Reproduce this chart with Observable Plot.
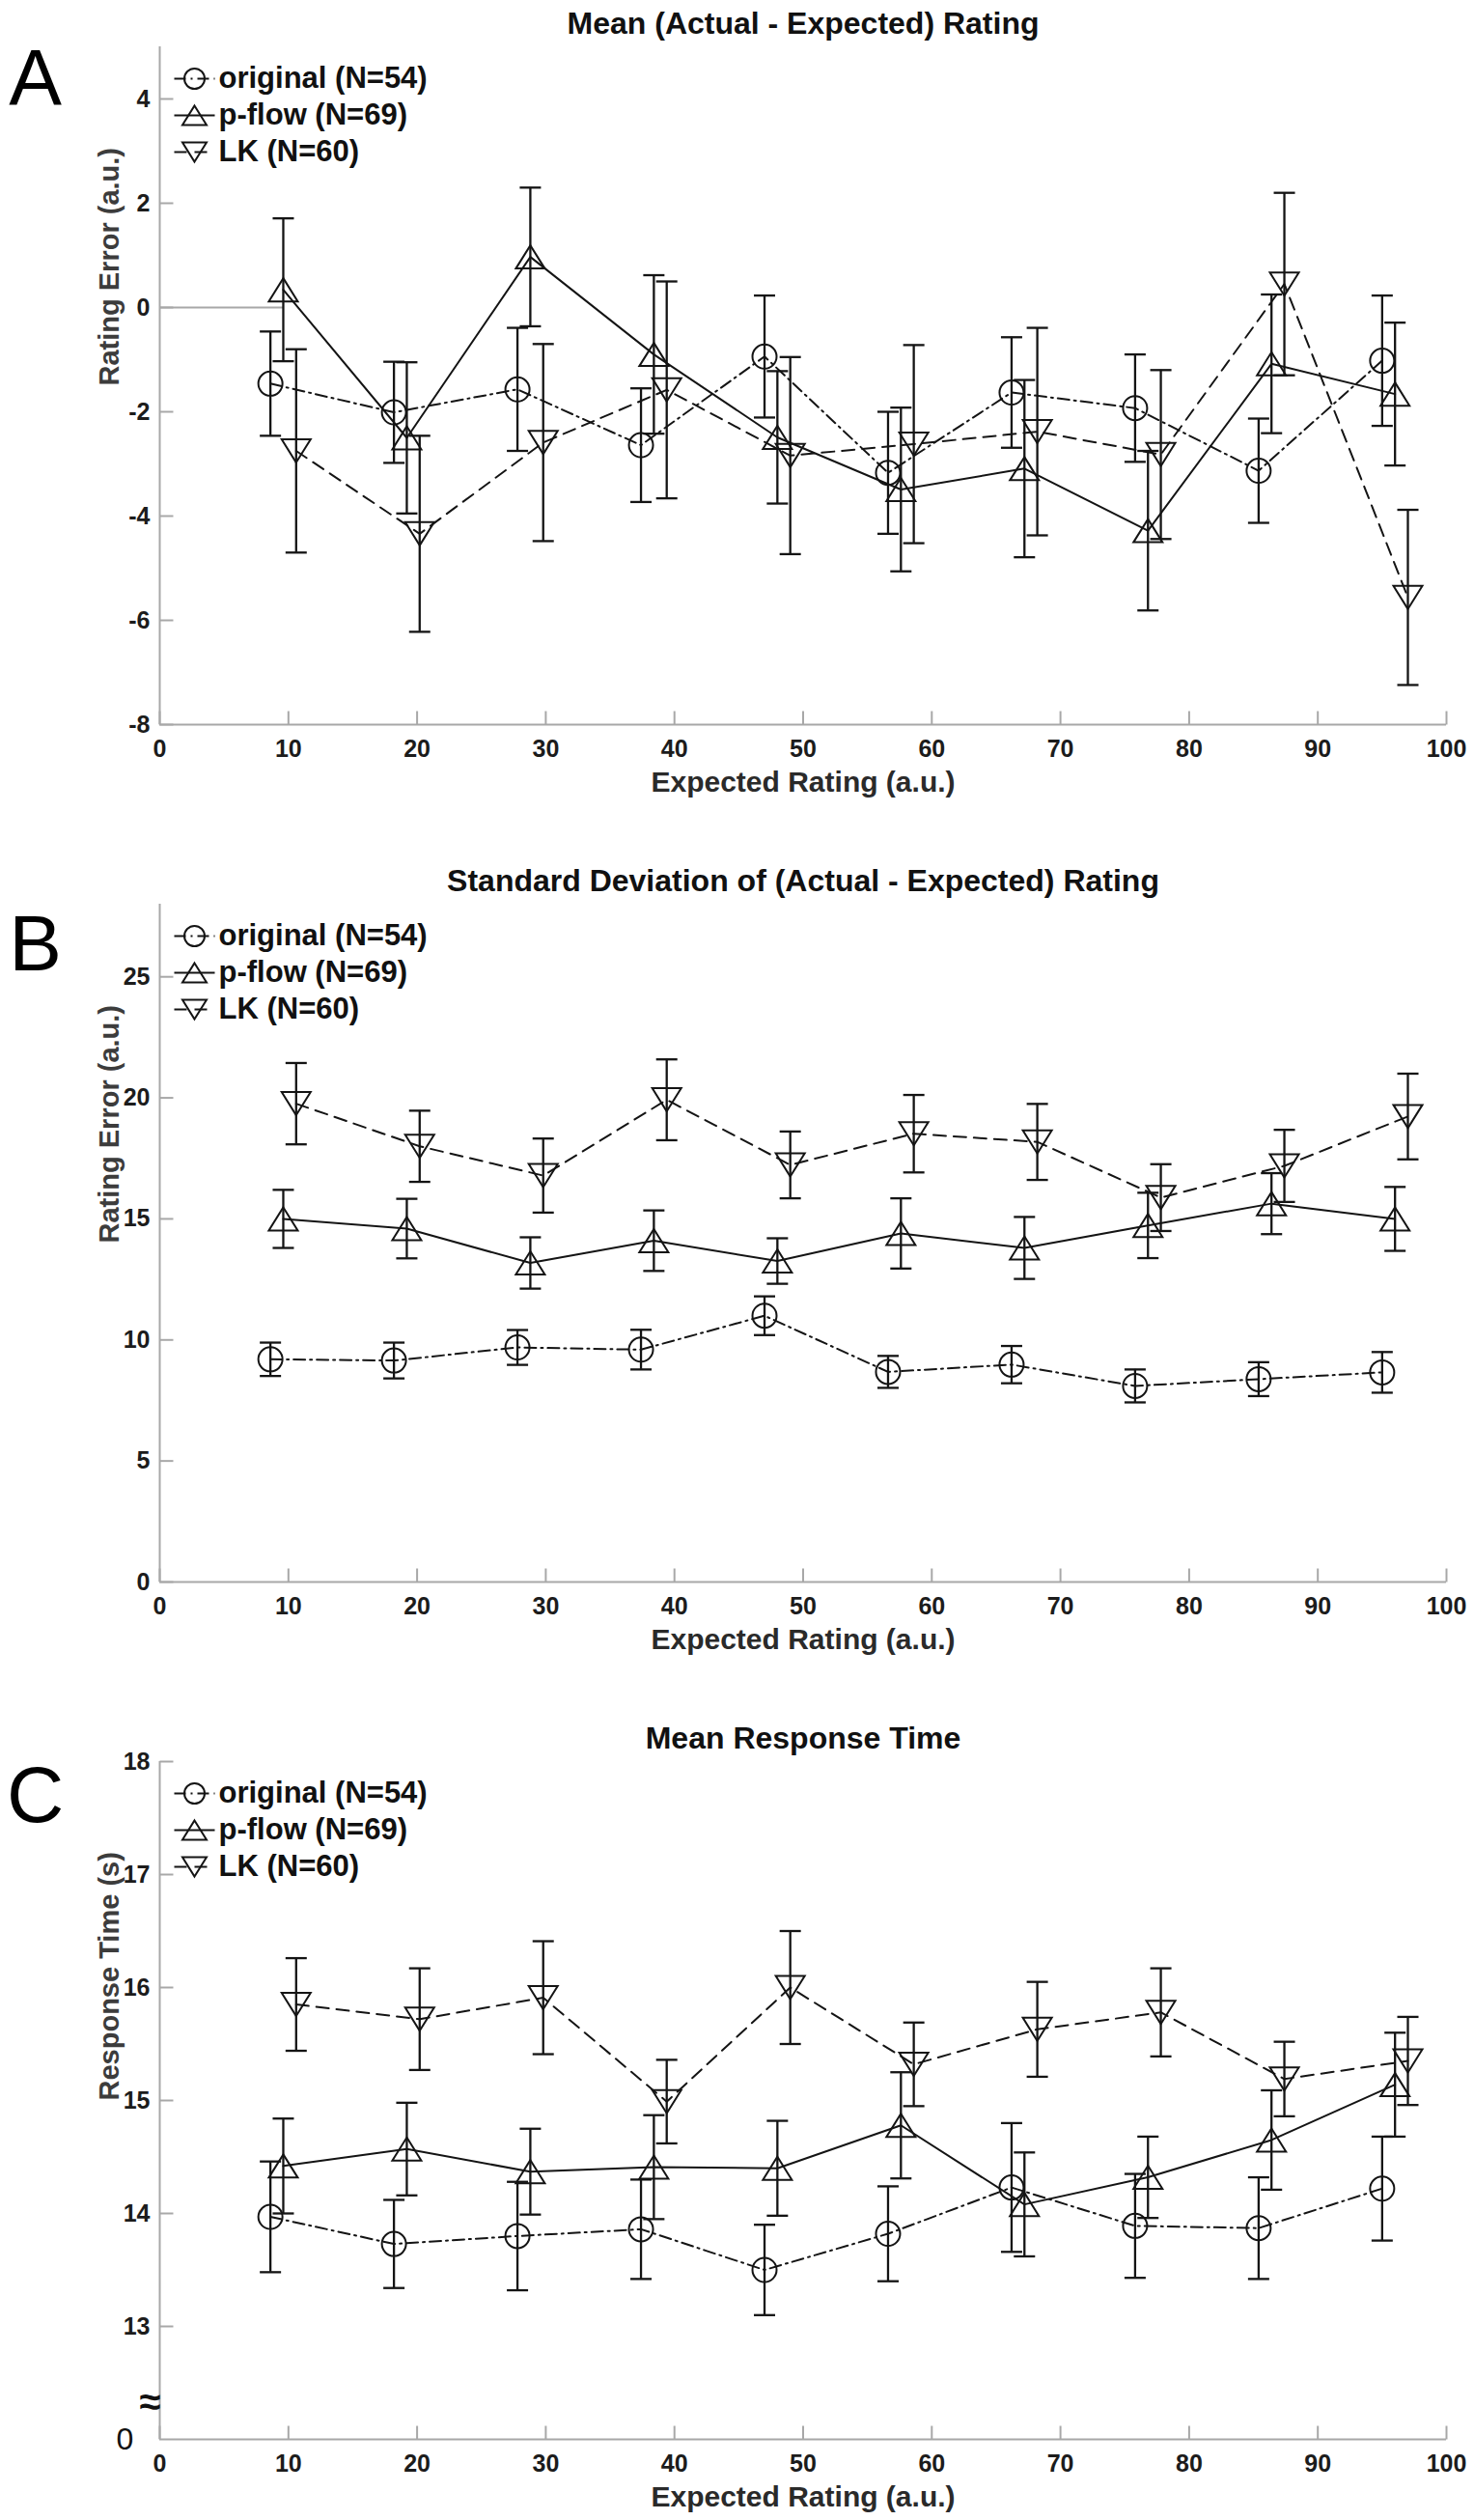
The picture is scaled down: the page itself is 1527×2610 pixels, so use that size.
<!DOCTYPE html>
<html>
<head>
<meta charset="utf-8">
<script src="https://cdn.jsdelivr.net/npm/d3@7"></script>
<script src="https://cdn.jsdelivr.net/npm/@observablehq/plot@0.6"></script>
<style>
  body { margin: 0; background: #fff; }
  #fig { width: 1527px; }
  #fig svg { display: block; }
</style>
</head>
<body>
<div id="fig"></div>
<script>
// ---------------- DATA ----------------
const seriesNames = ["original (N=54)", "p-flow (N=69)", "LK (N=60)"];
const xLabel = "Expected Rating (a.u.)";
const xTicks = [0, 10, 20, 30, 40, 50, 60, 70, 80, 90, 100];

// x positions (mean expected rating per bin) for each series
const xOriginal = [8.6, 18.2, 27.8, 37.4, 47.0, 56.6, 66.2, 75.8, 85.4, 95.0];
const xPflow    = [9.6, 19.2, 28.8, 38.4, 48.0, 57.6, 67.2, 76.8, 86.4, 96.0];
const xLK       = [10.6, 20.2, 29.8, 39.4, 49.0, 58.6, 68.2, 77.8, 87.4, 97.0];

// Panel A: Mean (Actual - Expected) Rating
const titleA = "Mean (Actual - Expected) Rating";
const yLabelA = "Rating Error (a.u.)";
const yTicksA = [-8, -6, -4, -2, 0, 2, 4];
const yDomainA = [-8, 5];
const meanA_original = [-1.46, -2.01, -1.57, -2.64, -0.94, -3.17, -1.63, -1.93, -3.13, -1.02];
const seA_original   = [1.00, 0.97, 1.18, 1.09, 1.17, 1.17, 1.06, 1.03, 1.00, 1.25];
const meanA_pflow    = [0.34, -2.50, 0.97, -0.90, -2.49, -3.49, -3.09, -4.28, -1.08, -1.66];
const seA_pflow      = [1.37, 1.45, 1.33, 1.52, 1.27, 1.57, 1.70, 1.53, 1.33, 1.37];
const meanA_LK       = [-2.75, -4.34, -2.59, -1.58, -2.84, -2.62, -2.38, -2.82, 0.45, -5.56];
const seA_LK         = [1.95, 1.88, 1.89, 2.08, 1.89, 1.90, 1.99, 1.62, 1.75, 1.68];
const refLineA = [{y: 0, x1: 0, x2: 9.6}];

// Panel B: Standard Deviation of (Actual - Expected) Rating
const titleB = "Standard Deviation of (Actual - Expected) Rating";
const yLabelB = "Rating Error (a.u.)";
const yTicksB = [0, 5, 10, 15, 20, 25];
const yDomainB = [0, 28];
const meanB_original = [9.20, 9.15, 9.69, 9.60, 11.00, 8.68, 8.98, 8.10, 8.38, 8.66];
const seB_original   = [0.69, 0.74, 0.72, 0.82, 0.80, 0.66, 0.77, 0.68, 0.70, 0.84];
const meanB_pflow    = [15.00, 14.60, 13.18, 14.10, 13.26, 14.40, 13.80, 14.73, 15.63, 15.00];
const seB_pflow      = [1.20, 1.23, 1.06, 1.25, 0.94, 1.45, 1.28, 1.35, 1.26, 1.32];
const meanB_LK       = [19.76, 18.00, 16.79, 19.92, 17.23, 18.52, 18.18, 15.88, 17.19, 19.23];
const seB_LK         = [1.68, 1.47, 1.53, 1.67, 1.38, 1.60, 1.57, 1.38, 1.49, 1.77];

// Panel C: Mean Response Time
const titleC = "Mean Response Time";
const yLabelC = "Response Time (s)";
const yTicksC = [13, 14, 15, 16, 17, 18];
const yDomainC = [12, 18];
const axisBreakLabelC = [{value: 12, label: "0"}];
const axisBreakMarkC = [{value: 12.33, label: "≈"}];
const meanC_original = [13.97, 13.73, 13.80, 13.86, 13.50, 13.82, 14.23, 13.89, 13.87, 14.22];
const seC_original   = [0.49, 0.39, 0.48, 0.44, 0.40, 0.42, 0.57, 0.46, 0.45, 0.46];
const meanC_pflow    = [14.42, 14.57, 14.37, 14.41, 14.40, 14.78, 14.08, 14.32, 14.65, 15.14];
const seC_pflow      = [0.42, 0.41, 0.38, 0.46, 0.42, 0.47, 0.46, 0.36, 0.44, 0.46];
const meanC_LK       = [15.85, 15.72, 15.91, 14.99, 16.00, 15.32, 15.63, 15.78, 15.19, 15.35];
const seC_LK         = [0.41, 0.45, 0.50, 0.37, 0.50, 0.37, 0.42, 0.39, 0.33, 0.39];

// ---------------- STYLE ----------------
const FONT = "'Liberation Sans', Arial, Helvetica, sans-serif";
const INK = "#141414";
const AXIS = "#a8a8a8";

const circleSym = {draw(ctx, size) { const r = Math.sqrt(size / Math.PI); ctx.moveTo(r, 0); ctx.arc(0, 0, r, 0, 2 * Math.PI); ctx.closePath(); }};
const triUpSym = {draw(ctx, size) { const r = Math.sqrt(size / Math.PI); ctx.moveTo(0, -r); ctx.lineTo(1.25 * r, r); ctx.lineTo(-1.25 * r, r); ctx.closePath(); }};
const triDownSym = {draw(ctx, size) { const r = Math.sqrt(size / Math.PI); ctx.moveTo(0, r); ctx.lineTo(1.25 * r, -r); ctx.lineTo(-1.25 * r, -r); ctx.closePath(); }};
const capSym = {draw(ctx) { ctx.moveTo(-11, 0); ctx.lineTo(11, 0); }};
const tickUpSym = {draw(ctx) { ctx.moveTo(0, 0); ctx.lineTo(0, -14); }};
const tickRightSym = {draw(ctx) { ctx.moveTo(0, 0); ctx.lineTo(14, 0); }};
const legendLineSym = {draw(ctx) { ctx.moveTo(-21, 0); ctx.lineTo(21, 0); }};

const seriesStyle = [
  {symbol: circleSym, dash: "12,5,2,5", r: 12.5, rl: 10.5},
  {symbol: triUpSym, dash: null, r: 12, rl: 10},
  {symbol: triDownSym, dash: "13,8", r: 12, rl: 10}
];
const xSeries = [xOriginal, xPflow, xLK];

const W = 1527, ML = 165, MR = 29, MT = 48, PH = 702;

function panel({title, yLabel, letter, letterDy, yDomain, yTicks, means, ses, height, extra = []}) {
  const groups = means.map((m, s) => m.map((v, i) => ({x: xSeries[s][i], y: v, lo: v - ses[s][i], hi: v + ses[s][i], s})));
  const marks = [];
  // axes
  marks.push(Plot.ruleY([yDomain[0]], {stroke: AXIS, strokeWidth: 2}));
  marks.push(Plot.ruleX([0], {stroke: AXIS, strokeWidth: 2}));
  marks.push(Plot.dot(xTicks, {x: d => d, y: () => yDomain[0], symbol: tickUpSym, r: 5, fill: "none", stroke: AXIS, strokeWidth: 2}));
  marks.push(Plot.dot(yTicks, {x: () => 0, y: d => d, symbol: tickRightSym, r: 5, fill: "none", stroke: AXIS, strokeWidth: 2}));
  marks.push(Plot.axisX({ticks: xTicks, tickSize: 0, tickPadding: 16, fontSize: 25, fontWeight: "bold", fill: "#1c1c1c", fontFamily: FONT, label: null, tickFormat: d => String(d)}));
  marks.push(Plot.axisY({ticks: yTicks, tickSize: 0, tickPadding: 10, fontSize: 25, fontWeight: "bold", fill: "#1c1c1c", fontFamily: FONT, label: null, tickFormat: d => String(d)}));
  marks.push(...extra);
  // data
  groups.forEach((g, s) => {
    const st = seriesStyle[s];
    marks.push(Plot.line(g, {x: "x", y: "y", stroke: INK, strokeWidth: 2, strokeDasharray: st.dash || undefined}));
    marks.push(Plot.ruleX(g, {x: "x", y1: "lo", y2: "hi", stroke: INK, strokeWidth: 2.3}));
    marks.push(Plot.dot(g, {x: "x", y: "lo", symbol: capSym, r: 5, fill: "none", stroke: INK, strokeWidth: 2.3}));
    marks.push(Plot.dot(g, {x: "x", y: "hi", symbol: capSym, r: 5, fill: "none", stroke: INK, strokeWidth: 2.3}));
    marks.push(Plot.dot(g, {x: "x", y: "y", symbol: st.symbol, r: st.r, fill: "none", stroke: INK, strokeWidth: 2}));
  });
  // legend
  const rowDy = [33, 71, 109];
  seriesNames.forEach((name, s) => {
    const st = seriesStyle[s];
    marks.push(Plot.dot([name], {frameAnchor: "top-left", dx: 36, dy: rowDy[s], symbol: legendLineSym, r: 5, fill: "none", stroke: INK, strokeWidth: 2, strokeDasharray: st.dash || undefined}));
    marks.push(Plot.dot([name], {frameAnchor: "top-left", dx: 36, dy: rowDy[s], symbol: st.symbol, r: st.rl, fill: "none", stroke: INK, strokeWidth: 2}));
    marks.push(Plot.text([name], {frameAnchor: "top-left", dx: 61, dy: rowDy[s], text: d => d, textAnchor: "start", lineAnchor: "middle", fontSize: 31, fontWeight: "bold", fill: "#111", fontFamily: FONT}));
  });
  // texts
  marks.push(Plot.text([title], {frameAnchor: "top", dy: -24, text: d => d, lineAnchor: "middle", fontSize: 32, fontWeight: "bold", fill: "#111", fontFamily: FONT}));
  marks.push(Plot.text([letter], {frameAnchor: "top-left", dx: 36 - ML, dy: letterDy, text: d => d, textAnchor: "middle", lineAnchor: "middle", fontSize: 82, fill: "#000", fontFamily: FONT}));
  marks.push(Plot.text([yLabel], {frameAnchor: "left", dx: -52, rotate: -90, text: d => d, fontSize: 29, fontWeight: "bold", fill: "#3c3c3c", fontFamily: FONT}));
  marks.push(Plot.text([xLabel], {frameAnchor: "bottom", dy: 60, text: d => d, lineAnchor: "middle", fontSize: 30, fontWeight: "bold", fill: "#2a2a2a", fontFamily: FONT}));

  return Plot.plot({
    width: W,
    height,
    marginLeft: ML,
    marginRight: MR,
    marginTop: MT,
    marginBottom: height - MT - PH,
    style: {fontFamily: FONT, background: "#fff", overflow: "visible"},
    x: {domain: [0, 100]},
    y: {domain: yDomain},
    marks
  });
}

const fig = document.getElementById("fig");
fig.appendChild(panel({
  title: titleA, yLabel: yLabelA, letter: "A", letterDy: 33,
  yDomain: yDomainA, yTicks: yTicksA,
  means: [meanA_original, meanA_pflow, meanA_LK], ses: [seA_original, seA_pflow, seA_LK],
  height: 888,
  extra: [Plot.ruleY(refLineA, {y: "y", x1: "x1", x2: "x2", stroke: AXIS, strokeWidth: 2})]
}));
fig.appendChild(panel({
  title: titleB, yLabel: yLabelB, letter: "B", letterDy: 42,
  yDomain: yDomainB, yTicks: yTicksB,
  means: [meanB_original, meanB_pflow, meanB_LK], ses: [seB_original, seB_pflow, seB_LK],
  height: 888
}));
fig.appendChild(panel({
  title: titleC, yLabel: yLabelC, letter: "C", letterDy: 36,
  yDomain: yDomainC, yTicks: yTicksC,
  means: [meanC_original, meanC_pflow, meanC_LK], ses: [seC_original, seC_pflow, seC_LK],
  height: 834,
  extra: [
    Plot.text(axisBreakLabelC, {x: () => 0, y: "value", text: "label", dx: -36, fontSize: 32, fill: "#111", fontFamily: FONT}),
    Plot.text(axisBreakMarkC, {x: () => 0, y: "value", text: "label", dx: -10, fontSize: 40, fontWeight: "bold", fill: "#111", fontFamily: FONT})
  ]
}));
</script>
</body>
</html>
